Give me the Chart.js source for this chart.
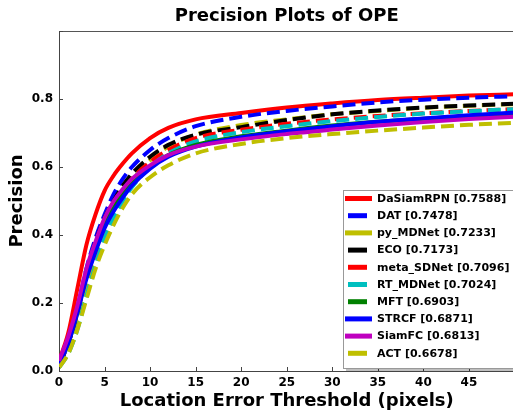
<!DOCTYPE html>
<html>
<head>
<meta charset="utf-8">
<script src="https://cdn.jsdelivr.net/npm/chart.js@4/dist/chart.umd.min.js"></script>
<style>
  html, body { margin: 0; padding: 0; background: #fff; overflow: hidden; }
  #wrap { width: 520px; height: 415px; }
</style>
</head>
<body>
<div id="wrap"><canvas id="chart" width="520" height="415"></canvas></div>
<script>
// thresholds (pixels)
const thresholds = [0, 1, 2, 3, 4, 5, 6, 7, 8, 10, 12, 15, 20, 25, 30, 35, 40, 45, 50];

// precision values
const daSiamRPN = [0.03, 0.11, 0.24, 0.37, 0.46, 0.53, 0.575, 0.61, 0.64, 0.685, 0.715, 0.74, 0.7588, 0.775, 0.787, 0.797, 0.804, 0.810, 0.814];
const dat       = [0.02, 0.08, 0.18, 0.30, 0.39, 0.46, 0.52, 0.565, 0.60, 0.65, 0.685, 0.72, 0.7478, 0.765, 0.778, 0.790, 0.798, 0.804, 0.808];
const pyMDNet   = [0.01, 0.06, 0.15, 0.25, 0.34, 0.41, 0.47, 0.52, 0.56, 0.62, 0.66, 0.695, 0.7233, 0.740, 0.755, 0.765, 0.774, 0.780, 0.785];
const eco       = [0.02, 0.08, 0.18, 0.29, 0.38, 0.45, 0.50, 0.545, 0.58, 0.63, 0.665, 0.695, 0.7173, 0.738, 0.755, 0.766, 0.775, 0.781, 0.786];
const metaSDNet = [0.02, 0.08, 0.17, 0.28, 0.37, 0.44, 0.49, 0.53, 0.565, 0.615, 0.65, 0.685, 0.7096, 0.727, 0.740, 0.750, 0.758, 0.765, 0.770];
const rtMDNet   = [0.01, 0.05, 0.12, 0.22, 0.31, 0.39, 0.45, 0.50, 0.54, 0.60, 0.64, 0.675, 0.7024, 0.720, 0.735, 0.747, 0.757, 0.764, 0.770];
const mft       = [0.02, 0.08, 0.17, 0.28, 0.36, 0.43, 0.48, 0.52, 0.555, 0.60, 0.635, 0.665, 0.6903, 0.707, 0.722, 0.733, 0.742, 0.749, 0.755];
const strcf     = [0.02, 0.08, 0.17, 0.27, 0.35, 0.42, 0.47, 0.51, 0.545, 0.595, 0.63, 0.66, 0.6871, 0.705, 0.720, 0.733, 0.743, 0.752, 0.760];
const siamFC    = [0.03, 0.10, 0.19, 0.30, 0.38, 0.45, 0.50, 0.535, 0.565, 0.605, 0.635, 0.66, 0.6813, 0.697, 0.710, 0.722, 0.732, 0.741, 0.748];
const act       = [0.01, 0.05, 0.12, 0.21, 0.30, 0.37, 0.43, 0.48, 0.52, 0.57, 0.605, 0.64, 0.6678, 0.685, 0.697, 0.707, 0.716, 0.724, 0.730];

const trackerNames = ['DaSiamRPN [0.7588]', 'DAT [0.7478]', 'py_MDNet [0.7233]', 'ECO [0.7173]', 'meta_SDNet [0.7096]',
                      'RT_MDNet [0.7024]', 'MFT [0.6903]', 'STRCF [0.6871]', 'SiamFC [0.6813]', 'ACT [0.6678]'];
const trackerValues = [daSiamRPN, dat, pyMDNet, eco, metaSDNet, rtMDNet, mft, strcf, siamFC, act];
const xTicks = [0, 5, 10, 15, 20, 25, 30, 35, 40, 45];
const yTicks = [0.0, 0.2, 0.4, 0.6, 0.8];

// styles
const colors = ['#ff0000', '#0000ff', '#bfbf00', '#000000', '#ff0000', '#00bfbf', '#008000', '#0000ff', '#bf00bf', '#bfbf00'];
const dashed = [false, true, true, true, true, true, false, false, false, true];
const shortSample = [false, true, false, true, true, true, true, false, false, true];

const FONT = '"DejaVu Sans", sans-serif';

const datasets = trackerNames.map((name, i) => ({
    label: name,
    data: thresholds.map((t, j) => ({ x: t, y: trackerValues[i][j] })),
    borderColor: colors[i],
    backgroundColor: colors[i],
    borderWidth: 4,
    borderDash: dashed[i] ? [13, 6] : [],
    pointRadius: 0,
    tension: 0.4,
    cubicInterpolationMode: 'monotone',
    order: trackerNames.length - i
}));

// frame, inward ticks, titles and legend box
const decor = {
    id: 'decor',
    afterDatasetsDraw(chart) {
        const ctx = chart.ctx;
        const a = chart.chartArea;
        const xs = chart.scales.x, ys = chart.scales.y;
        ctx.save();
        ctx.strokeStyle = '#555';
        ctx.lineWidth = 1;
        ctx.beginPath();
        ctx.moveTo(a.left, a.top + 0.5); ctx.lineTo(a.right, a.top + 0.5);
        ctx.moveTo(a.right - 0.5, a.top); ctx.lineTo(a.right - 0.5, a.bottom);
        ctx.stroke();
        // inward ticks
        ctx.strokeStyle = '#444';
        ctx.beginPath();
        xTicks.forEach(v => {
            const px = Math.round(xs.getPixelForValue(v)) + 0.5;
            ctx.moveTo(px, a.bottom); ctx.lineTo(px, a.bottom - 4);
        });
        yTicks.concat([1.0]).forEach(v => {
            const py = Math.round(ys.getPixelForValue(v)) + 0.5;
            ctx.moveTo(a.left, py); ctx.lineTo(a.left + 4, py);
        });
        ctx.stroke();

        // titles
        ctx.fillStyle = '#000';
        ctx.textAlign = 'center';
        ctx.textBaseline = 'middle';
        ctx.font = 'bold 18px ' + FONT;
        ctx.fillText('Precision Plots of OPE', (a.left + a.right) / 2, 16);
        ctx.fillText('Location Error Threshold (pixels)', (a.left + a.right) / 2, 401);
        ctx.save();
        ctx.translate(17, 201);
        ctx.rotate(-Math.PI / 2);
        ctx.fillText('Precision', 0, 0);
        ctx.restore();

        // legend
        const bx = 343, by = 190, bw = 172, bh = 178;
        ctx.fillStyle = 'rgba(0,0,0,0.25)';
        ctx.fillRect(bx + 3, by + 3, bw, bh);
        ctx.fillStyle = '#fff';
        ctx.fillRect(bx, by, bw, bh);
        ctx.strokeStyle = '#999';
        ctx.strokeRect(bx + 0.5, by + 0.5, bw, bh);
        ctx.font = 'bold 11px ' + FONT;
        ctx.textAlign = 'left';
        trackerNames.forEach((name, i) => {
            const y = 198.5 + i * 17.2;
            ctx.strokeStyle = colors[i];
            ctx.lineWidth = 5;
            ctx.setLineDash([]);
            ctx.beginPath();
            if (shortSample[i]) { ctx.moveTo(348, y); ctx.lineTo(367, y); }
            else { ctx.moveTo(345, y); ctx.lineTo(372, y); }
            ctx.stroke();
            ctx.fillStyle = '#000';
            ctx.fillText(name, 377, y + 0.5);
        });
        ctx.restore();
    }
};

new Chart(document.getElementById('chart').getContext('2d'), {
    type: 'line',
    data: { datasets: datasets },
    options: {
        responsive: false,
        animation: false,
        layout: { padding: { left: 0, top: 31, right: 5.5, bottom: 0 } },
        plugins: { legend: { display: false }, tooltip: { enabled: false }, title: { display: false } },
        scales: {
            x: {
                type: 'linear', min: 0, max: 50,
                afterFit(s) { s.height = 44; },
                afterBuildTicks(s) { s.ticks = xTicks.map(v => ({ value: v })); },
                grid: { display: false },
                border: { display: true, color: '#444', width: 1 },
                ticks: { color: '#000', font: { family: FONT, weight: 'bold', size: 12 }, padding: -3, maxRotation: 0 }
            },
            y: {
                type: 'linear', min: 0, max: 1,
                afterFit(s) { s.width = 59; },
                afterBuildTicks(s) { s.ticks = yTicks.map(v => ({ value: v })); },
                grid: { display: false },
                border: { display: true, color: '#444', width: 1 },
                ticks: { color: '#000', font: { family: FONT, weight: 'bold', size: 12 }, padding: -2,
                         callback: v => v.toFixed(1) }
            }
        }
    },
    plugins: [decor]
});
</script>
</body>
</html>
